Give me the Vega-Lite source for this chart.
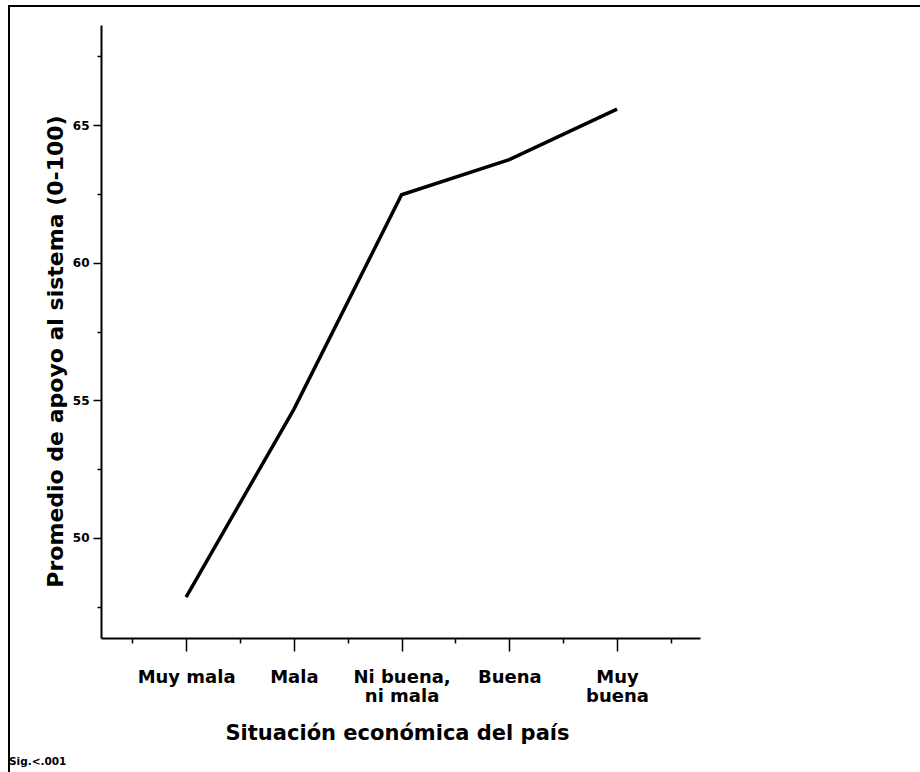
{
  "$schema": "https://vega.github.io/schema/vega-lite/v6.json",
  "autosize": "none",
  "padding": {"left": 9, "top": 6, "right": 0, "bottom": 0},
  "width": 911,
  "height": 766,
  "background": "white",
  "config": {
    "view": {"stroke": "black", "strokeWidth": 2, "strokeDash": [911, 1677, 766], "fill": null},
    "font": "DejaVu Sans"
  },
  "title": {
    "text": "Sig.<.001",
    "orient": "bottom",
    "anchor": "start",
    "frame": "group",
    "offset": -7,
    "baseline": "alphabetic",
    "font": "DejaVu Sans",
    "fontSize": 10.5,
    "fontWeight": "bold",
    "color": "black"
  },
  "data": {
    "values": [
      {"situacion": "Muy mala", "orden": 1, "apoyo": 47.85},
      {"situacion": "Mala", "orden": 2, "apoyo": 54.67},
      {"situacion": "Ni buena, ni mala", "orden": 3, "apoyo": 62.47},
      {"situacion": "Buena", "orden": 4, "apoyo": 63.75},
      {"situacion": "Muy buena", "orden": 5, "apoyo": 65.58}
    ]
  },
  "mark": {"type": "line", "color": "black", "strokeWidth": 3.5},
  "encoding": {
    "x": {
      "field": "orden",
      "type": "quantitative",
      "scale": {"domain": [0.21, 5.77], "range": [92, 691], "nice": false, "zero": false},
      "axis": {
        "orient": "bottom",
        "offset": -134,
        "values": [0.5, 1, 1.5, 2, 2.5, 3, 3.5, 4, 4.5, 5, 5.5],
        "labelExpr": "datum.value == 1 ? 'Muy mala' : datum.value == 2 ? 'Mala' : datum.value == 3 ? ['Ni buena,', 'ni mala'] : datum.value == 4 ? 'Buena' : datum.value == 5 ? ['Muy', 'buena'] : ''",
        "grid": false,
        "domainColor": "black",
        "domainWidth": 2,
        "tickColor": "black",
        "tickWidth": 1.5,
        "tickSize": {"condition": {"test": "datum.value % 1 === 0", "value": 13}, "value": 5},
        "labelFont": "DejaVu Sans",
        "labelFontWeight": "bold",
        "labelFontSize": 18,
        "labelColor": "black",
        "labelPadding": 17,
        "labelLineHeight": 19,
        "labelBaseline": "top",
        "labelFlush": false,
        "labelOverlap": false,
        "title": "Situación económica del país",
        "titleFont": "DejaVu Sans",
        "titleFontWeight": "bold",
        "titleFontSize": 21,
        "titleColor": "black",
        "titleBaseline": "alphabetic",
        "titleX": 388,
        "titleY": 101
      }
    },
    "y": {
      "field": "apoyo",
      "type": "quantitative",
      "scale": {"domain": [46.36, 68.64], "range": [632, 19], "nice": false, "zero": false},
      "axis": {
        "orient": "left",
        "offset": -92,
        "values": [47.5, 50, 52.5, 55, 57.5, 60, 62.5, 65, 67.5],
        "labelExpr": "datum.value % 5 === 0 ? datum.label : ''",
        "grid": false,
        "domainColor": "black",
        "domainWidth": 2,
        "tickColor": "black",
        "tickWidth": 1.5,
        "tickSize": {"condition": {"test": "datum.value % 5 === 0", "value": 8}, "value": 4},
        "labelFont": "DejaVu Sans",
        "labelFontWeight": "bold",
        "labelFontSize": 12,
        "labelColor": "black",
        "labelPadding": 4,
        "labelFlush": false,
        "labelOverlap": false,
        "title": "Promedio de apoyo al sistema (0-100)",
        "titleFont": "DejaVu Sans",
        "titleFontWeight": "bold",
        "titleFontSize": 22,
        "titleColor": "black",
        "titleAngle": -90,
        "titleBaseline": "alphabetic",
        "titleX": -39,
        "titleY": 345
      }
    }
  }
}
